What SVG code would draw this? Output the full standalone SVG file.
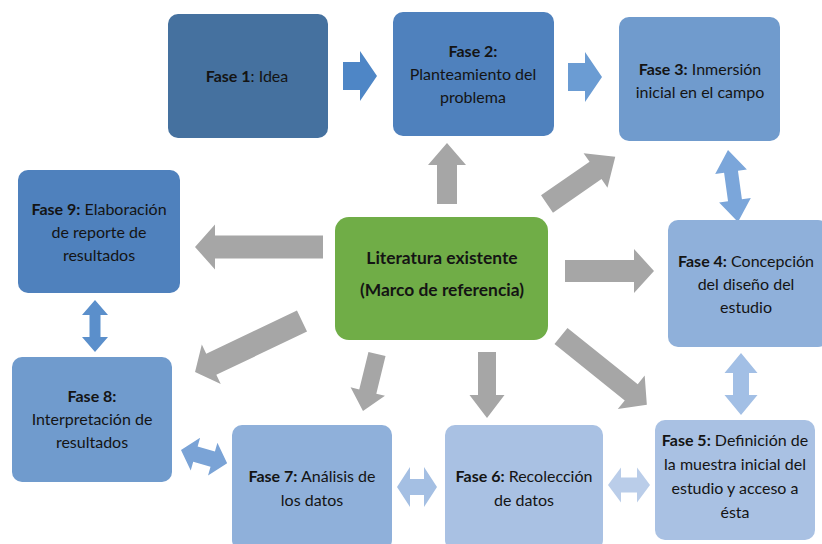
<svg xmlns="http://www.w3.org/2000/svg" width="822" height="544" viewBox="0 0 822 544">
<style>
text{font-family:Lato,"Liberation Sans",sans-serif;font-size:16px;fill:#141414;text-anchor:middle}
.b{font-weight:bold}
.c{font-size:17.4px;font-weight:bold}
.g{fill:#A6A6A6}
</style>
<rect width="822" height="544" fill="#ffffff"/>
<g id="connectors">
<polygon class="g" transform="translate(447,204) rotate(-90)" points="0,-10 39,-10 39,-19 61,0 39,19 39,10 0,10"/>
<polygon class="g" transform="translate(547,204) rotate(-34.65)" points="0,-10.5 59,-10.5 59,-21 83,0 59,21 59,10.5 0,10.5"/>
<polygon class="g" transform="translate(323,247) rotate(180)" points="0,-11.5 108,-11.5 108,-22.5 128,0 108,22.5 108,11.5 0,11.5"/>
<polygon class="g" transform="translate(565,271)" points="0,-11 69,-11 69,-22 89,0 69,22 69,11 0,11"/>
<polygon class="g" transform="translate(302,321) rotate(154.5)" points="0,-11.7 100.5,-11.7 100.5,-22 118.5,0 100.5,22 100.5,11.7 0,11.7"/>
<polygon class="g" transform="translate(377,354) rotate(103.8)" points="0,-8.8 38.7,-8.8 38.7,-17.7 58.7,0 38.7,17.7 38.7,8.8 0,8.8"/>
<polygon class="g" transform="translate(487,352) rotate(90)" points="0,-9 43,-9 43,-17.5 66,0 43,17.5 43,9 0,9"/>
<polygon class="g" transform="translate(561,336) rotate(38.7)" points="0,-10.4 90,-10.4 90,-21.5 110,0 90,21.5 90,10.4 0,10.4"/>
<polygon fill="#4E86C6" transform="translate(343,76)" points="0,-14 17,-14 17,-25 34,0 17,25 17,14 0,14"/>
<polygon fill="#6B9CD3" transform="translate(568,77)" points="0,-14 17,-14 17,-25 34,0 17,25 17,14 0,14"/>
<polygon fill="#7BA6DA" transform="translate(728,150) rotate(82.1)" points="0,0 22,-16 22,-7 50.7,-7 50.7,-16 72.7,0 50.7,16 50.7,7 22,7 22,16"/>
<polygon fill="#A2BFE5" transform="translate(741,353) rotate(90)" points="0,0 20,-16.5 20,-8 42,-8 42,-16.5 62,0 42,16.5 42,8 20,8 20,16.5"/>
<polygon fill="#BACDE9" transform="translate(608,485)" points="0,0 13,-17.5 13,-7.5 29,-7.5 29,-17.5 42,0 29,17.5 29,7.5 13,7.5 13,17.5"/>
<polygon fill="#A4BFE3" transform="translate(397,487)" points="0,0 13,-20 13,-8 27,-8 27,-20 40,0 27,20 27,8 13,8 13,20"/>
<polygon fill="#7AA3D6" transform="translate(181,450) rotate(16)" points="0,0 15,-17 15,-8 33,-8 33,-17 48,0 33,17 33,8 15,8 15,17"/>
<polygon fill="#5B8FCB" transform="translate(95,300) rotate(90)" points="0,0 15,-13 15,-5.5 37,-5.5 37,-13 52,0 37,13 37,5.5 15,5.5 15,13"/>
</g>
<g id="fase1">
<rect x="168" y="14" width="160" height="124" rx="10" fill="#45719F"/>
<text x="247" y="82"><tspan class="b">Fase 1</tspan>: Idea</text>
</g>
<g id="fase2">
<rect x="393" y="12" width="161" height="124" rx="10" fill="#4F81BD"/>
<text x="473" y="57" class="b">Fase 2:</text>
<text x="473" y="80">Planteamiento del</text>
<text x="473" y="103">problema</text>
</g>
<g id="fase3">
<rect x="619" y="17" width="161" height="124" rx="10" fill="#709BCD"/>
<text x="700" y="75"><tspan class="b">Fase 3:</tspan> Inmersión</text>
<text x="700" y="98">inicial en el campo</text>
</g>
<g id="fase4">
<rect x="668" y="220" width="160" height="127" rx="10" fill="#8FB0DA"/>
<text x="746" y="267"><tspan class="b">Fase 4:</tspan> Concepción</text>
<text x="746" y="290">del diseño del</text>
<text x="746" y="313">estudio</text>
</g>
<g id="fase5">
<rect x="655" y="420" width="160" height="120" rx="10" fill="#A9C1E3"/>
<text x="735" y="446"><tspan class="b">Fase 5:</tspan> Definición de</text>
<text x="735" y="470">la muestra inicial del</text>
<text x="735" y="494">estudio y acceso a</text>
<text x="735" y="518">ésta</text>
</g>
<g id="fase6">
<rect x="445" y="425" width="158" height="125" rx="10" fill="#A9C1E3"/>
<text x="524" y="482"><tspan class="b">Fase 6:</tspan> Recolección</text>
<text x="524" y="506">de datos</text>
</g>
<g id="fase7">
<rect x="232" y="425" width="160" height="125" rx="10" fill="#8FB0DA"/>
<text x="312" y="482"><tspan class="b">Fase 7:</tspan> Análisis de</text>
<text x="312" y="506">los datos</text>
</g>
<g id="fase8">
<rect x="12" y="357" width="160" height="125" rx="10" fill="#709BCD"/>
<text x="92" y="402" class="b">Fase 8:</text>
<text x="92" y="425">Interpretación de</text>
<text x="92" y="448">resultados</text>
</g>
<g id="fase9">
<rect x="18" y="170" width="162" height="123" rx="10" fill="#4F81BD"/>
<text x="99" y="215"><tspan class="b">Fase 9:</tspan> Elaboración</text>
<text x="99" y="238">de reporte de</text>
<text x="99" y="261">resultados</text>
</g>
<g id="literatura">
<rect x="335" y="217" width="213" height="123" rx="14" fill="#70AD47"/>
<text x="442" y="264" class="c">Literatura existente</text>
<text x="442" y="296" class="c">(Marco de referencia)</text>
</g>
</svg>
